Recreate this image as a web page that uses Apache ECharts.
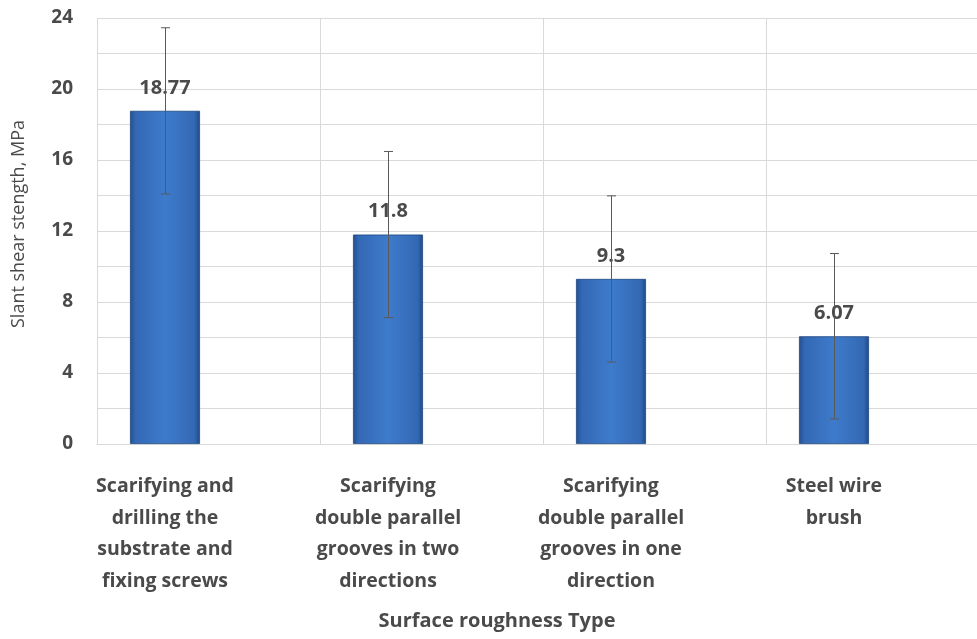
<!DOCTYPE html>
<html><head><meta charset="utf-8">
<script src="https://cdn.jsdelivr.net/npm/echarts@6/dist/echarts.min.js"></script>
<style>html,body{margin:0;padding:0;background:#fff}#c{width:977px;height:639px}</style>
</head><body><div id="c"></div>
<script>
const categories = [
  "Scarifying and\ndrilling the\nsubstrate and\nfixing screws",
  "Scarifying\ndouble parallel\ngrooves in two\ndirections",
  "Scarifying\ndouble parallel\ngrooves in one\ndirection",
  "Steel wire\nbrush"
];
const values = [18.77, 11.8, 9.3, 6.07];
const errors = [4.68, 4.68, 4.68, 4.66];
const yTicks = [0, 4, 8, 12, 16, 20, 24];
const yAxisTitle = "Slant shear stength, MPa";
const xAxisTitle = "Surface roughness Type";

const FONT = "'Open Sans', 'Liberation Sans', sans-serif";
const TXT = '#4a4a4a';
const GRID_C = '#d9d9d9';
const chart = echarts.init(document.getElementById('c'), null, {renderer: 'canvas'});
const barColor = new echarts.graphic.LinearGradient(0, 0, 1, 0, [
  {offset: 0, color: '#234f8e'},
  {offset: 0.08, color: '#3368b4'},
  {offset: 0.5, color: '#3e7bcb'},
  {offset: 0.92, color: '#3369b4'},
  {offset: 1, color: '#1f4a86'}
]);
chart.setOption({
  animation: false,
  grid: [
    {left: 53.5, width: 892, top: 18, bottom: 195, outerBoundsMode: 'none', containLabel: false},
    {left: 97, width: 892, top: 18, bottom: 195, outerBoundsMode: 'none', containLabel: false}
  ],
  xAxis: [{
    gridIndex: 0, type: 'category', data: categories,
    axisLine: {show: false}, axisTick: {show: false}, splitLine: {show: false},
    axisLabel: {
      interval: 0, margin: 27, color: TXT, fontFamily: FONT, fontWeight: 'bold',
      fontSize: 19.5, lineHeight: 31.5, align: 'center'
    }
  }, {
    gridIndex: 1, type: 'category', data: categories.map(() => ''),
    axisLine: {show: true, lineStyle: {color: GRID_C, width: 1}},
    axisTick: {show: false}, axisLabel: {show: false},
    splitLine: {show: true, lineStyle: {color: GRID_C, width: 1}}
  }],
  yAxis: [{
    gridIndex: 0, type: 'value', min: 0, max: 24, interval: 2, show: false
  }, {
    gridIndex: 1, type: 'value', min: 0, max: 24, interval: 2,
    axisLine: {show: false}, axisTick: {show: false},
    splitLine: {show: true, lineStyle: {color: GRID_C, width: 1}},
    axisLabel: {
      margin: 24, color: TXT, fontFamily: FONT, fontWeight: 'bold', fontSize: 19,
      formatter: v => yTicks.includes(v) ? String(v) : ''
    },
    name: yAxisTitle, nameLocation: 'middle', nameGap: 69, nameRotate: 90,
    nameTextStyle: {color: TXT, fontFamily: FONT, fontSize: 18, padding: [0, 0, 0, 14]}
  }],
  graphic: [{
    type: 'text', x: 497, y: 611,
    style: {text: xAxisTitle, fill: TXT, font: "bold 20px 'Open Sans', sans-serif", textAlign: 'center', textVerticalAlign: 'top'}
  }],
  series: [{
    type: 'bar', xAxisIndex: 0, yAxisIndex: 0,
    data: values,
    barWidth: 70,
    itemStyle: {color: barColor, borderColor: '#1d4680', borderWidth: 0.8},
    label: {
      show: true, position: 'top', distance: 13, color: TXT,
      fontFamily: FONT, fontWeight: 'bold', fontSize: 20,
      formatter: p => String(values[p.dataIndex])
    },
    z: 2
  }, {
    type: 'custom', xAxisIndex: 0, yAxisIndex: 0,
    data: values.map((v, i) => [i, v - errors[i], v + errors[i]]),
    renderItem: function (params, api) {
      const lo = api.coord([api.value(0), api.value(1)]);
      const hi = api.coord([api.value(0), api.value(2)]);
      const x = Math.round(lo[0]) + 0.5;
      const c = 4.5;
      const st = {stroke: '#595959', lineWidth: 1};
      return {type: 'group', children: [
        {type: 'line', shape: {x1: x, y1: hi[1], x2: x, y2: lo[1]}, style: st},
        {type: 'line', shape: {x1: x - c, y1: hi[1], x2: x + c, y2: hi[1]}, style: st},
        {type: 'line', shape: {x1: x - c, y1: lo[1], x2: x + c, y2: lo[1]}, style: st}
      ]};
    },
    z: 5
  }]
});
</script></body></html>
